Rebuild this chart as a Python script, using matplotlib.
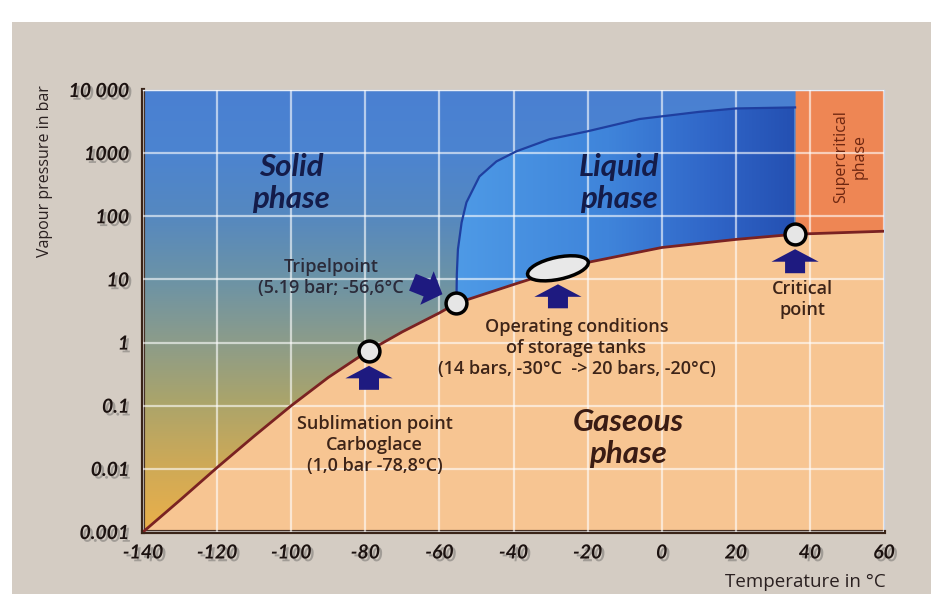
import numpy as np
import matplotlib
matplotlib.use("Agg")
import matplotlib.pyplot as plt
import matplotlib.transforms as mtransforms
import matplotlib.patheffects as pe
from matplotlib.colors import LinearSegmentedColormap
from matplotlib.patches import Ellipse, Polygon, Rectangle

# sublimation / vaporisation curve
vap_T = [-140, -130, -120, -110, -100, -90, -80, -70, -60, -55.4, -40, -30, -20, 0, 20, 36, 60]
vap_p = [0.001, 0.0032, 0.0105, 0.033, 0.1, 0.28, 0.69, 1.48, 2.95, 4.2, 8.3, 12.8, 18.6, 32, 43, 52, 58]
# melting curve from the triple point
melt_T = [-55.4, -55.3, -55.0, -54.0, -52.7, -49.2, -44.6, -39.2, -30.3, -20, -6, 10, 20, 36]
melt_p = [4.2, 12, 30, 80, 166, 427, 740, 1070, 1660, 2220, 3470, 4500, 5100, 5300]

triple = (-55.4, 4.2)
sublim = (-79, 0.74)
critical = (36, 52)
operating = (-28, 15)

yticks = [0.001, 0.01, 0.1, 1, 10, 100, 1000, 10000]
ytick_labels = ["0.001", "0.01", "0.1", "1", "10", "100", "1000", "10 000"]
xticks = [-140, -120, -100, -80, -60, -40, -20, 0, 20, 40, 60]
xtick_labels = ["-140", "-120", "-100", "-80", "-60", "-40", "-20", "0", "20", "40", "60"]

solid_stops = [(0.0, "#4a80d2"), (0.14, "#4c84d0"), (0.28, "#5588c0"), (0.43, "#6c93a6"),
               (0.57, "#8c9c8a"), (0.70, "#a9a46c"), (0.84, "#cca958"), (1.0, "#ebb04a")]
liquid_stops = [(0.0, "#4e9ae6"), (0.45, "#3f84da"), (0.75, "#3066c8"), (1.0, "#2450b2")]

fig = plt.figure(figsize=(9.31, 5.94), dpi=100, facecolor="white")
fig.patches.append(Rectangle((12 / 931, 0), 1, (594 - 22) / 594, transform=fig.transFigure,
                             facecolor="#d4ccc3", edgecolor="none", zorder=-10))

pos = [143 / 931, 62 / 594, 741 / 931, 442 / 594]

# vertical gradient behind the whole plot (solid phase colours)
ax_bg = fig.add_axes(pos, zorder=0)
cmap_solid = LinearSegmentedColormap.from_list("solid", solid_stops)
ax_bg.imshow(np.linspace(0, 1, 256).reshape(-1, 1), cmap=cmap_solid, extent=(0, 1, 0, 1),
             aspect="auto", origin="upper")
ax_bg.axis("off")

ax = fig.add_axes(pos, zorder=1)
ax.set_facecolor("none")
ax.set_yscale("log")
ax.set_xlim(-140, 60)
ax.set_ylim(0.001, 10000)

vT = np.array(vap_T)
vp = np.array(vap_p)

# gaseous phase
ax.fill_between(vT, 0.0001, vp, color="#f7c592", lw=0, zorder=1)
# supercritical
m = vT >= critical[0]
ax.fill_between(vT[m], vp[m], 10000, color="#ee8654", lw=0, zorder=1)

# liquid phase with horizontal gradient
mv = (vT >= triple[0]) & (vT <= critical[0])
liq_pts = list(zip(melt_T, melt_p)) + list(zip(vT[mv][::-1], vp[mv][::-1]))
liq = Polygon(liq_pts, closed=True, facecolor="none", edgecolor="none", transform=ax.transData)
ax.add_patch(liq)
cmap_liq = LinearSegmentedColormap.from_list("liq", liquid_stops)
im = ax.imshow(np.linspace(0, 1, 256).reshape(1, -1), cmap=cmap_liq,
               extent=(triple[0], critical[0], 1, 10000), aspect="auto", zorder=1.5)
im.set_clip_path(liq)
ax.set_xlim(-140, 60)
ax.set_ylim(0.001, 10000)

ax.plot(vap_T, vap_p, color="#7a2222", lw=2, zorder=3)
ax.plot(melt_T, melt_p, color="#1f3fa0", lw=1.6, zorder=3)

ax.grid(True, which="major", color="white", alpha=0.6, lw=1.6)
ax.set_axisbelow(False)
ax.yaxis.set_minor_locator(matplotlib.ticker.NullLocator())
ax.set_yticks(yticks)
ax.set_xticks(xticks)
shadow = [pe.withSimplePatchShadow(offset=(2, -2), shadow_rgbFace="#444444", alpha=0.35)]
ax.set_yticklabels(ytick_labels, family="Lato", style="italic", weight="bold", size=14,
                   color="#1c1210", path_effects=shadow)
ax.set_xticklabels(xtick_labels, family="Lato", style="italic", weight="bold", size=14,
                   color="#1c1210", path_effects=shadow)
ax.tick_params(axis="y", length=0, pad=10)
ax.tick_params(axis="x", length=0, pad=9)
for s in ["top", "right"]:
    ax.spines[s].set_color("#c9d6ea")
    ax.spines[s].set_linewidth(1)
for s in ["left", "bottom"]:
    ax.spines[s].set_color("#3a2418")
    ax.spines[s].set_linewidth(3)

# points
for pt in [triple, sublim, critical]:
    ax.plot(*pt, marker="o", ms=15, mfc="#e6e6e6", mec="black", mew=2.5, zorder=5)
ell = Ellipse((0, 0), 0.62, 0.22, angle=12, facecolor="#e8e8e8", edgecolor="black", lw=2.5,
              transform=fig.dpi_scale_trans + mtransforms.ScaledTranslation(*operating, ax.transData),
              zorder=5)
ax.add_patch(ell)

# arrows
arrow_kw = dict(arrowstyle="simple,head_length=0.45,head_width=1.7,tail_width=0.72",
                fc="#1e1a80", ec="none", shrinkA=0, shrinkB=0, mutation_scale=20)


def up_arrow(pt, gap):
    tr = mtransforms.offset_copy(ax.transData, fig=fig, x=0, y=-gap, units="dots")
    ax.annotate("", xy=pt, xycoords=tr, xytext=(0, -24), textcoords="offset pixels",
                arrowprops=arrow_kw, zorder=5)


up_arrow(sublim, 15)
up_arrow(operating, 16)
up_arrow(critical, 15)
tr = mtransforms.offset_copy(ax.transData, fig=fig, x=-14, y=9, units="dots")
ax.annotate("", xy=triple, xycoords=tr, xytext=(-30, 12), textcoords="offset pixels",
            arrowprops=dict(arrowstyle="simple,head_length=0.6,head_width=1.3,tail_width=0.65",
                            fc="#1e1a80", ec="none", shrinkA=0, shrinkB=0, mutation_scale=20),
            zorder=5)

# phase labels
ph = dict(family="Lato", style="italic", weight="bold", size=22.5, ha="center", va="center",
          linespacing=1.15)
ax.text(-100, 334, "Solid\nphase", color="#141c4a", **ph)
ax.text(-11.5, 334, "Liquid\nphase", color="#141c4a", **ph)
ax.text(-9, 0.031, "Gaseous\nphase", color="#3a1c14", **ph)

note = dict(family="Open Sans", weight="semibold", size=13, ha="center", va="center",
            linespacing=1.22)
ax.text(-89.3, 10.6, "Tripelpoint\n(5.19 bar; -56,6°C", color="#2b2b3a", **note)
ax.text(-23, 0.83, "Operating conditions\nof storage tanks\n(14 bars, -30°C  -> 20 bars, -20°C)",
        color="#3d2418", **note)
ax.text(-77.5, 0.024, "Sublimation point\nCarboglace\n(1,0 bar -78,8°C)", color="#3d2418", **note)
ax.text(37.9, 4.8, "Critical\npoint", color="#3d2418", **note)
ax.text(51, 870, "Supercritical\nphase", color="#6e2610", family="Open Sans", size=11.5,
        rotation=90, ha="center", va="center", linespacing=1.2)

fig.text(45 / 931, (594 - 171) / 594, "Vapour pressure in bar", rotation=90, family="Open Sans",
         size=11.5, color="#2a2020", ha="center", va="center")
fig.text(886 / 931, (594 - 582) / 594, "Temperature in °C", family="Open Sans", size=13.5,
         color="#2a2020", ha="right", va="center")

fig.savefig("out.png", dpi=100, facecolor=fig.get_facecolor())
